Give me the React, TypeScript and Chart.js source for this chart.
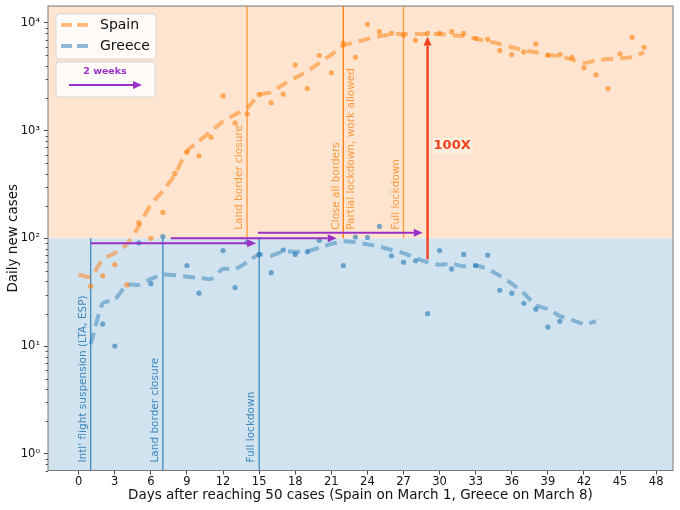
import { useEffect, useRef } from "react";
import { Chart, registerables } from "chart.js";

Chart.register(...registerables);

// days after reaching 50 cases
const days = [
  0, 1, 2, 3, 4, 5, 6, 7, 8, 9, 10, 11, 12, 13, 14, 15, 16, 17, 18, 19, 20, 21, 22, 23,
  24, 25, 26, 27, 28, 29, 30, 31, 32, 33, 34, 35, 36, 37, 38, 39, 40, 41, 42, 43, 44, 45, 46, 47,
];

const spainDaily = [
  null, 36, 45, 57, 37, 140, 100, 174, 401, 631, 585, 870, 2100, 1180, 1430, 2160, 1820, 2180,
  4080, 2460, 5010, 3440, 6470, 4800, 9700, 8300, 8000, 7700, 6900, 8000, 8000, 8300, 8000,
  7200, 7050, 5530, 5080, 5380, 6380, 5010, 5080, 4800, 3830, 3300, 2460, 5160, 7350, 5940,
];

const spainTrend = [
  46, 44, 64, 73, 88, 130, 207, 275, 392, 646, 798, 988, 1220, 1410, 1620, 2150, 2270, 2680,
  3090, 3560, 4250, 5080, 6160, 6610, 7110, 7510, 7840, 7900, 7900, 7900, 7900, 7700, 7560,
  7150, 6740, 6380, 5940, 5570, 5340, 5050, 4900, 4570, 4250, 4500, 4630, 4670, 4840, 5340,
];

const greeceDaily = [
  null, null, 16, 10, null, 91, 38, 104, null, 56, 31, null, 77, 35, 92, 71, 48, 78, 71, 75,
  96, null, 56, 103, 102, 129, 69, 60, 62, 20, 77, 52, 71, 56, 70, 33, 31, 25, 22, 15, 17,
  null, null, null, null, null, null, null,
];

const greeceTrend = [
  null, 10.4, 25, 27, 37, 37, 42, 46, 45.5, 44, 43, 42, 52, 52, 60, 71, 69, 76, 75, 76, 82,
  89, 94, 92, 88, 84, 78, 73, 66, 60, 57, 58, 55, 56, 52, 45, 38, 31, 24, 22, 19, 17.5, 16,
  17, null, null, null, null,
];

const xTicks = [0, 3, 6, 9, 12, 15, 18, 21, 24, 27, 30, 33, 36, 39, 42, 45, 48];
const yTicks = [1, 10, 100, 1000, 10000];
const yTickLabels = ["10⁰", "10¹", "10²", "10³", "10⁴"];

const splitValue = 100;

const spainEventDays = [14, 22, 22, 27];
const spainEventLabels = [
  "Land border closure",
  "Close all borders",
  "Partial lockdown, work allowed",
  "Full lockdown",
];
const spainEventSide = [-1, -1, 1, -1];

const greeceEventDays = [1, 7, 15];
const greeceEventLabels = ["Intl' flight suspension (LTA, ESP)", "Land border closure", "Full lockdown"];

// two-week arrows: start day, end day, level
const weekArrowFrom = [1, 7.65, 14.9];
const weekArrowTo = [14.75, 21.45, 28.6];
const weekArrowAt = [90, 100, 113];

// 100X gap arrow
const gapDay = 29;
const gapFrom = 64;
const gapTo = 7500;

const ORANGE = "255,127,14";
const BLUE = "31,119,180";
const PURPLE = "#9a30c6";
const RED = "#f2421f";
const FONT = "'DejaVu Sans', sans-serif";

function arrow(
  ctx: CanvasRenderingContext2D,
  x1: number,
  y1: number,
  x2: number,
  y2: number,
  color: string,
  width: number,
  headLen: number,
  headW: number
) {
  const ang = Math.atan2(y2 - y1, x2 - x1);
  const bx = x2 - headLen * Math.cos(ang);
  const by = y2 - headLen * Math.sin(ang);
  ctx.strokeStyle = color;
  ctx.fillStyle = color;
  ctx.lineWidth = width;
  ctx.setLineDash([]);
  ctx.beginPath();
  ctx.moveTo(x1, y1);
  ctx.lineTo(bx, by);
  ctx.stroke();
  ctx.beginPath();
  ctx.moveTo(x2, y2);
  ctx.lineTo(bx + (headW / 2) * Math.sin(ang), by - (headW / 2) * Math.cos(ang));
  ctx.lineTo(bx - (headW / 2) * Math.sin(ang), by + (headW / 2) * Math.cos(ang));
  ctx.closePath();
  ctx.fill();
}

function roundBox(ctx: CanvasRenderingContext2D, x: number, y: number, w: number, h: number) {
  ctx.beginPath();
  ctx.roundRect(x, y, w, h, 3);
  ctx.fillStyle = "rgba(255,255,255,0.85)";
  ctx.fill();
  ctx.strokeStyle = "rgba(210,210,210,0.9)";
  ctx.lineWidth = 1;
  ctx.stroke();
}

function vText(ctx: CanvasRenderingContext2D, text: string, x: number, y: number, color: string) {
  ctx.save();
  ctx.translate(x, y);
  ctx.rotate(-Math.PI / 2);
  ctx.fillStyle = color;
  ctx.font = `10.5px ${FONT}`;
  ctx.textAlign = "left";
  ctx.textBaseline = "middle";
  ctx.fillText(text, 0, 0);
  ctx.restore();
}

const overlay = {
  id: "overlay",
  beforeDraw(chart: any) {
    const { ctx, chartArea: a, scales } = chart;
    const y100 = scales.y.getPixelForValue(splitValue);
    ctx.save();
    ctx.fillStyle = "#ffe5cf";
    ctx.fillRect(a.left, a.top, a.right - a.left, y100 - a.top);
    ctx.fillStyle = "#d2e3f0";
    ctx.fillRect(a.left, y100, a.right - a.left, a.bottom - y100);
    ctx.restore();
  },
  beforeDatasetsDraw(chart: any) {
    const { ctx, chartArea: a, scales } = chart;
    const { x, y } = scales;
    const y100 = y.getPixelForValue(splitValue);
    ctx.save();
    ctx.lineWidth = 1.2;
    spainEventDays.forEach((d, i) => {
      const px = x.getPixelForValue(d);
      ctx.strokeStyle = `rgba(${ORANGE},0.8)`;
      ctx.beginPath();
      ctx.moveTo(px, y100);
      ctx.lineTo(px, a.top);
      ctx.stroke();
      vText(ctx, spainEventLabels[i], px + spainEventSide[i] * 7.5, y.getPixelForValue(120), `rgba(${ORANGE},0.75)`);
    });
    greeceEventDays.forEach((d, i) => {
      const px = x.getPixelForValue(d);
      ctx.strokeStyle = `rgba(${BLUE},0.9)`;
      ctx.lineWidth = 1.2;
      ctx.beginPath();
      ctx.moveTo(px, a.bottom);
      ctx.lineTo(px, y100);
      ctx.stroke();
      vText(ctx, greeceEventLabels[i], px - 7.5, y.getPixelForValue(0.83), `rgba(${BLUE},0.85)`);
    });
    ctx.restore();
  },
  afterDatasetsDraw(chart: any) {
    const { ctx, chartArea: a, scales } = chart;
    const { x, y } = scales;
    ctx.save();
    weekArrowFrom.forEach((d, i) => {
      const py = y.getPixelForValue(weekArrowAt[i]);
      arrow(ctx, x.getPixelForValue(d), py, x.getPixelForValue(weekArrowTo[i]), py, PURPLE, 2, 9, 8);
    });
    const gx = x.getPixelForValue(gapDay);
    arrow(ctx, gx, y.getPixelForValue(gapFrom), gx, y.getPixelForValue(gapTo), RED, 2.4, 9, 8);

    // 100X label
    ctx.font = `bold 13px ${FONT}`;
    ctx.textAlign = "left";
    ctx.textBaseline = "middle";
    const lx = gx + 6;
    const ly = 146;
    const tw = ctx.measureText("100X").width;
    ctx.fillStyle = "rgba(255,255,255,0.3)";
    ctx.fillRect(lx - 1, ly - 8, tw + 3, 16);
    ctx.fillStyle = RED;
    ctx.fillText("100X", lx, ly);

    // legend
    const lx0 = a.left + 8;
    roundBox(ctx, lx0, a.top + 8, 100, 45);
    ctx.lineWidth = 4;
    ctx.setLineDash([11, 5]);
    ctx.strokeStyle = `rgba(${ORANGE},0.5)`;
    ctx.beginPath();
    ctx.moveTo(lx0 + 5, a.top + 19);
    ctx.lineTo(lx0 + 32, a.top + 19);
    ctx.stroke();
    ctx.strokeStyle = `rgba(${BLUE},0.5)`;
    ctx.beginPath();
    ctx.moveTo(lx0 + 5, a.top + 40);
    ctx.lineTo(lx0 + 32, a.top + 40);
    ctx.stroke();
    ctx.setLineDash([]);
    ctx.fillStyle = "#111";
    ctx.font = `14px ${FONT}`;
    ctx.textAlign = "left";
    ctx.fillText("Spain", lx0 + 44, a.top + 19);
    ctx.fillText("Greece", lx0 + 44, a.top + 40);

    roundBox(ctx, lx0, a.top + 56, 99, 35);
    ctx.fillStyle = PURPLE;
    ctx.font = `bold 9.5px ${FONT}`;
    ctx.textAlign = "center";
    ctx.fillText("2 weeks", lx0 + 49, a.top + 66);
    arrow(ctx, lx0 + 13, a.top + 79, lx0 + 86, a.top + 79, PURPLE, 2, 9, 8);
    ctx.restore();
  },
  afterDraw(chart: any) {
    const { ctx, chartArea: a, scales } = chart;
    const y = scales.y;
    ctx.save();
    ctx.strokeStyle = "#777";
    ctx.lineWidth = 1;
    ctx.strokeRect(a.left, a.top, a.right - a.left, a.bottom - a.top);
    // minor log ticks
    ctx.strokeStyle = "#555";
    for (let dec = 0.1; dec <= 10000; dec *= 10) {
      for (let m = 2; m <= 9; m++) {
        const v = dec * m;
        if (v < y.min || v > y.max) continue;
        const py = Math.round(y.getPixelForValue(v)) + 0.5;
        ctx.beginPath();
        ctx.moveTo(a.left, py);
        ctx.lineTo(a.left - 2.5, py);
        ctx.stroke();
      }
    }
    ctx.restore();
  },
};

export default function App() {
  const canvasRef = useRef<HTMLCanvasElement | null>(null);
  const chartRef = useRef<Chart | null>(null);

  useEffect(() => {
    if (!canvasRef.current) return;
    if (chartRef.current) chartRef.current.destroy();

    const pts = (vals: (number | null)[]) =>
      days.map((d, i) => ({ x: d, y: vals[i] })).filter((p) => p.y !== null);

    chartRef.current = new Chart(canvasRef.current, {
      type: "line",
      data: {
        datasets: [
          {
            label: "Spain",
            data: pts(spainTrend) as any,
            borderColor: `rgba(${ORANGE},0.5)`,
            borderWidth: 4,
            borderDash: [12, 7],
            pointRadius: 0,
            tension: 0.2,
            order: 3,
          },
          {
            label: "Greece",
            data: pts(greeceTrend) as any,
            borderColor: `rgba(${BLUE},0.45)`,
            borderWidth: 4,
            borderDash: [12, 7],
            pointRadius: 0,
            tension: 0.2,
            order: 4,
          },
          {
            label: "Spain daily",
            data: pts(spainDaily) as any,
            showLine: false,
            pointRadius: 2.6,
            pointBorderWidth: 0,
            pointBackgroundColor: `rgba(${ORANGE},0.6)`,
            order: 2,
          },
          {
            label: "Greece daily",
            data: pts(greeceDaily) as any,
            showLine: false,
            pointRadius: 2.6,
            pointBorderWidth: 0,
            pointBackgroundColor: `rgba(${BLUE},0.6)`,
            order: 1,
          },
        ],
      },
      options: {
        responsive: false,
        animation: false,
        layout: { padding: { left: 0, right: 7, top: 6, bottom: 0 } },
        plugins: { legend: { display: false }, tooltip: { enabled: false } },
        scales: {
          x: {
            type: "linear",
            min: -2.55,
            max: 49.4,
            afterBuildTicks: (s: any) => {
              s.ticks = xTicks.map((v) => ({ value: v }));
            },
            afterFit: (s: any) => {
              s.height = 39.5;
              s.paddingLeft = 0;
              s.paddingRight = 0;
            },
            grid: { drawOnChartArea: false, drawTicks: true, tickLength: 4, color: "#444" },
            border: { display: false },
            ticks: {
              autoSkip: false,
              maxRotation: 0,
              padding: 1,
              color: "#111",
              font: { family: FONT, size: 11.5 },
            },
            title: {
              display: true,
              text: "Days after reaching 50 cases (Spain on March 1, Greece on March 8)",
              color: "#111",
              font: { family: FONT, size: 13.5 },
              padding: { top: 0, bottom: 6 },
            },
          },
          y: {
            type: "logarithmic",
            min: 0.717,
            max: 14360,
            afterBuildTicks: (s: any) => {
              s.ticks = yTicks.map((v) => ({ value: v }));
            },
            afterFit: (s: any) => {
              s.width = 48;
              s.paddingTop = 0;
              s.paddingBottom = 0;
            },
            grid: { drawOnChartArea: false, drawTicks: true, tickLength: 4, color: "#444" },
            border: { display: false },
            ticks: {
              autoSkip: false,
              padding: 4,
              color: "#111",
              font: { family: FONT, size: 11.5 },
              callback: (_v: any, i: number) => yTickLabels[i],
            },
            title: {
              display: true,
              text: "Daily new cases",
              color: "#111",
              font: { family: FONT, size: 13.5 },
              padding: { top: 5.5, bottom: 0 },
            },
          },
        },
      },
      plugins: [overlay],
    });

    return () => {
      chartRef.current?.destroy();
      chartRef.current = null;
    };
  }, []);

  return (
    <div style={{ position: "fixed", left: 0, top: 0, width: 680, height: 510, background: "#fff" }}>
      <canvas ref={canvasRef} width={680} height={510} />
    </div>
  );
}
